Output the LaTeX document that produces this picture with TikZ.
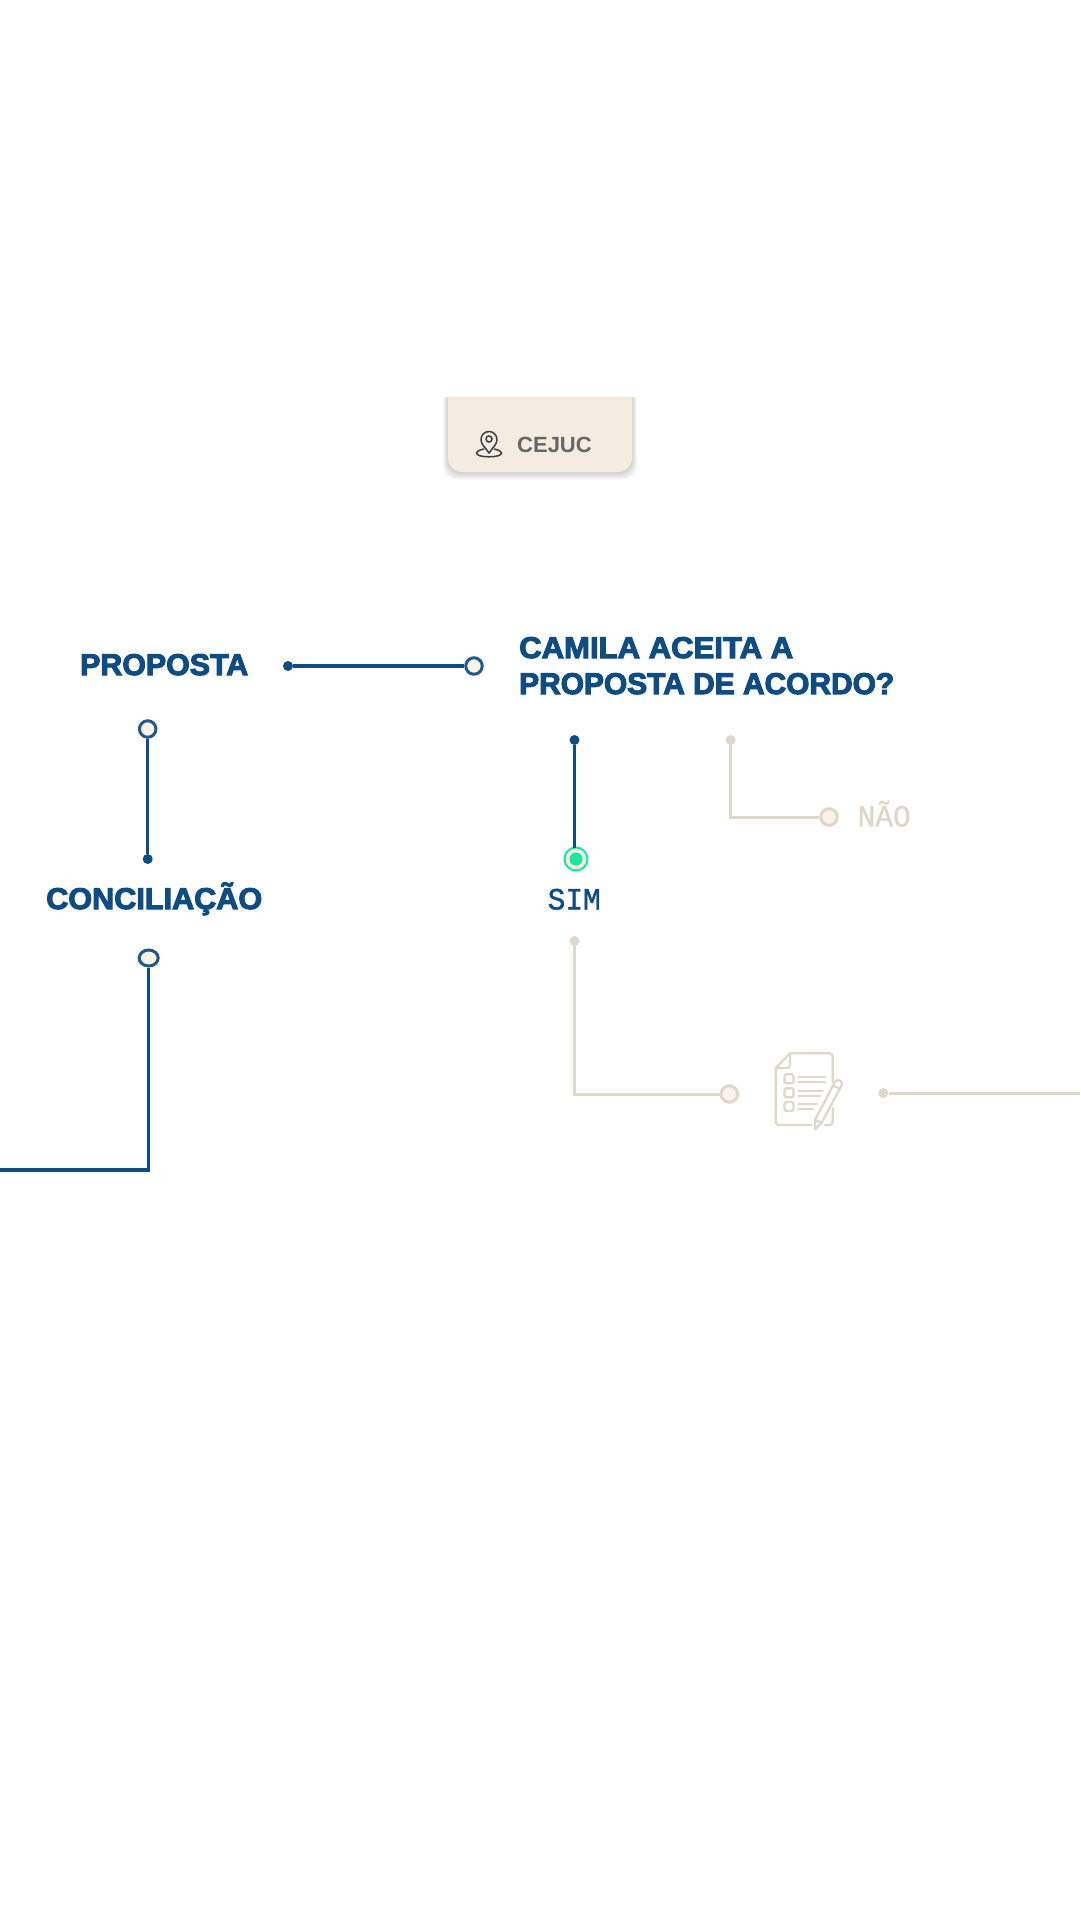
\documentclass[tikz,border=0pt]{standalone}
\usepackage{fontspec}
\usetikzlibrary{shapes.geometric}
\setmainfont{Liberation Sans}
\newfontfamily\heavyf[RawFeature={embolden=3.6}]{Liberation Sans Bold}
\newfontfamily\semif{Liberation Sans Bold}
\newfontfamily\monof[RawFeature={embolden=1.2}]{Liberation Mono}
\newcommand{\fitw}[2]{\resizebox{#1pt}{\height}{#2}}
\definecolor{navy}{HTML}{0F4C81}
\definecolor{ring}{HTML}{1F5A8A}
\definecolor{sand}{HTML}{DED7CB}
\definecolor{cream}{HTML}{FBF3E6}
\definecolor{card}{HTML}{F4ECE0}
\definecolor{mint}{HTML}{1BE59F}
\definecolor{inkg}{HTML}{666666}
\definecolor{inkd}{HTML}{3D4040}
\tikzset{
  dotn/.style={circle,fill=navy,inner sep=0pt,minimum size=10pt},
  dots/.style={circle,fill=sand,inner sep=0pt,minimum size=10pt},
  ringn/.style={circle,draw=ring,fill=cream,line width=3pt,inner sep=0pt,minimum size=16.5pt},
  rings/.style={circle,draw=sand,fill=cream,line width=3pt,inner sep=0pt,minimum size=16.5pt},
  linkn/.style={draw=navy,line width=3.2pt},
  links/.style={draw=sand,line width=3pt},
  heading/.style={text=navy,anchor=base west,inner sep=0pt,font=\heavyf\fontsize{30}{36}\selectfont},
  monolabel/.style={anchor=base west,inner sep=0pt,font=\monof\fontsize{31}{36}\selectfont},
  iconline/.style={draw=sand,line width=2.2pt,line cap=round,line join=round},
}
\begin{document}
\begin{tikzpicture}[x=1pt,y=-1pt]
\useasboundingbox (0,0) rectangle (1080,1920);
\fill[white] (0,0) rectangle (1080,1920);
% card with shadow
\begin{scope}
\clip (400,397) rectangle (680,500);
\foreach \g in {7,6,5,4,3,2,1}{
  \fill[black,opacity=0.024,rounded corners=14pt]
    (448-0.7*\g,380) rectangle (632+0.7*\g,473+\g);
}
\fill[card,rounded corners=14pt] (448,370) rectangle (632,472);
\end{scope}
% pin icon
\draw[inkd,line width=1.5pt,line join=round]
  (489,453) .. controls (485,447) and (481,444.5) .. (481,439.5)
  arc[start angle=180,end angle=360,radius=8] .. controls (497,444.5) and (493,447) .. cycle;
\draw[inkd,line width=1.5pt] (489,439) circle[radius=3];
\draw[inkd,line width=1.5pt] (484,449) .. controls (479,450) and (476.5,451.5) .. (476.5,453)
  .. controls (476.5,455.5) and (482,456.8) .. (489,456.8)
  .. controls (496,456.8) and (501.5,455.5) .. (501.5,453)
  .. controls (501.5,451.5) and (499,450) .. (494,449);
\node[anchor=base west,inner sep=0pt,text=inkg,font=\semif\fontsize{22}{26}\selectfont] (cejuc) at (517,452) {CEJUC};
% headings
\node[heading] (proposta) at (80,675) {\fitw{168}{PROPOSTA}};
\node[heading] (conc) at (46,909) {\fitw{216}{CONCILIAÇÃO}};
\node[heading] (cam1) at (519,658) {\fitw{274}{CAMILA ACEITA A}};
\node[heading] (cam2) at (519,694) {\fitw{375}{PROPOSTA DE ACORDO?}};
% navy links
\node[dotn] (a1) at (288,666) {};
\node[ringn] (a2) at (474,666) {};
\draw[linkn] (a1) -- (a2);
\node[ringn] (b1) at (147.7,729) {};
\node[dotn] (b2) at (147.7,859) {};
\draw[linkn] (b1) -- (b2);
\node[ellipse,draw=ring,fill=cream,line width=3pt,inner sep=0pt,minimum width=19pt,minimum height=16pt] (c1) at (148.7,958) {};
\coordinate (c2) at (148.7,1170);
\coordinate (c3) at (0,1170);
\draw[linkn,line join=miter] (c1) -- (c2) -- (c3);
% SIM
\node[dotn] (d1) at (574.5,740) {};
\node[circle,draw=mint,fill=card,line width=2pt,inner sep=0pt,minimum size=23pt] (d2) at (576,859) {};
\fill[mint] (d2.center) circle[radius=6.5];
\coordinate (d3) at (574.5,847.5);
\draw[linkn] (d1) -- (d3);
\node[monolabel,text=navy] (sim) at (547.5,909.5) {\fitw{53}{SIM}};
% NAO
\node[dots] (e1) at (730.7,740) {};
\node[rings] (e2) at (829,817) {};
\draw[links] (e1) |- (e2);
\node[monolabel,text=sand] (nao) at (857.5,826.5) {\fitw{53}{NÃO}};
% lower sand links
\node[dots] (f1) at (574.5,941) {};
\node[rings] (f2) at (729.3,1094) {};
\draw[links] (f1) |- (f2);
\node[dots] (g1) at (883.3,1093) {};
\coordinate (g2) at (1080,1093);
\draw[links] (g1) -- (g2);
% document icon
\draw[iconline] (811.7,1125) -- (778.7,1125) arc[start angle=90,end angle=180,radius=3] -- (775.7,1068) -- (790,1053.3) -- (829.7,1053.3) arc[start angle=270,end angle=360,radius=3] -- (832.7,1082);
\draw[iconline] (832.7,1108) -- (832.7,1122) arc[start angle=0,end angle=90,radius=3] -- (825,1125);
\draw[iconline] (790,1053.3) -- (790,1065) arc[start angle=0,end angle=90,radius=3] -- (775.7,1068);
\foreach \yy in {1074.3,1088.3,1102}{
  \draw[iconline,rounded corners=1.5pt] (784.5,\yy) rectangle (793.5,\yy+9);
}
\draw[iconline] (798.3,1076.7) -- (825,1076.7) (798.3,1081.7) -- (825,1081.7);
\draw[iconline] (798.3,1090.7) -- (822.7,1090.7) (798.3,1095.7) -- (820,1095.7);
\draw[iconline] (798.3,1104) -- (816.7,1104) (798.3,1108.7) -- (813,1108.7);
\draw[iconline] (815,1120) -- (835,1081.7) .. controls (837,1078) and (843.7,1081.2) .. (841.7,1085) -- (821.7,1122.7) -- (815,1129.3) -- cycle;
\draw[iconline] (834,1086) -- (840,1089);
\draw[iconline] (815,1120) -- (821.7,1122.7);
\end{tikzpicture}
\end{document}
